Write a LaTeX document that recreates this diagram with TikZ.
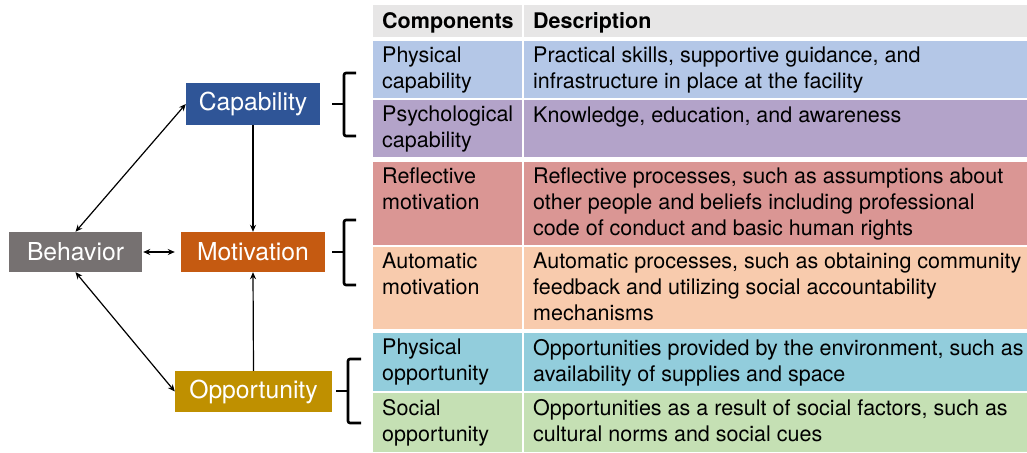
\documentclass[tikz,border=0pt]{standalone}
\usepackage{fontspec}
\setmainfont{TeX Gyre Heros}
\usetikzlibrary{arrows.meta,calc}
\definecolor{capc}{HTML}{2F5597}
\definecolor{motc}{HTML}{C55A11}
\definecolor{behc}{HTML}{767171}
\definecolor{oppc}{HTML}{BF9000}
\definecolor{hdrc}{HTML}{E7E6E6}
\definecolor{pcapc}{HTML}{B4C7E7}
\definecolor{scapc}{HTML}{B3A3C9}
\definecolor{rmotc}{HTML}{DA9694}
\definecolor{amotc}{HTML}{F8CBAD}
\definecolor{poppc}{HTML}{92CDDC}
\definecolor{soppc}{HTML}{C5E0B4}
\begin{document}
\begin{tikzpicture}[x=1pt,y=-1pt,
  box/.style={draw=none,inner sep=0pt,text=white,font=\fontsize{24.7}{28}\selectfont},
  cell/.style={draw=none,inner sep=0pt,anchor=north west},
  txt/.style={inner sep=0pt,anchor=north west,align=left,font=\fontsize{21.5}{26}\selectfont,
    execute at begin node={\rule{0pt}{16pt}}},
  hdr/.style={txt,font=\fontsize{21.5}{26}\selectfont\bfseries},
  link/.style={line width=1.2pt,{Stealth[length=7pt,width=6pt]}-{Stealth[length=7pt,width=6pt]}},
  onearrow/.style={line width=1.2pt,-{Stealth[length=7pt,width=6pt]}},
  brace/.style={line width=2.6pt,rounded corners=2pt}]
\useasboundingbox[fill=white] (0,0) rectangle (1027,452);
% diagram boxes
\node[box,fill=capc,minimum width=134pt,minimum height=42pt] (cap) at (253,104) {Capability};
\node[box,fill=motc,minimum width=144pt,minimum height=40pt] (mot) at (253,252) {Motivation};
\node[box,fill=behc,minimum width=133pt,minimum height=40pt] (beh) at (75.5,252) {Behavior};
\node[box,fill=oppc,minimum width=157pt,minimum height=41pt] (opp) at (253.5,391.5) {Opportunity};
% connectors
\draw[link] (beh.north) -- (cap.west);
\draw[link] (beh.south) -- (opp.west);
\draw[link,shorten <=1pt,shorten >=6pt] (beh.east) -- (mot.west);
\draw[onearrow] (cap.south) -- (mot.north);
\draw[onearrow] (opp.north) -- (mot.south);
% braces
\draw[brace] (356,73) -- (344,73) -- (344,136) -- (356,136);
\draw[brace] (344,104) -- (332,104);
\draw[brace] (356,220) -- (344,220) -- (344,285) -- (356,285);
\draw[brace] (344,252) -- (332,252);
\draw[brace] (361,359) -- (348,359) -- (348,423) -- (361,423);
\draw[brace] (348,391) -- (336,391);
% table cells
\node[cell,fill=hdrc,minimum width=149pt,minimum height=32pt] (h1) at (373,5) {};
\node[cell,fill=hdrc,minimum width=503pt,minimum height=32pt] (h2) at (524,5) {};
\node[cell,fill=pcapc,minimum width=149pt,minimum height=57pt] (a1) at (373,41) {};
\node[cell,fill=pcapc,minimum width=503pt,minimum height=57pt] (b1) at (524,41) {};
\node[cell,fill=scapc,minimum width=149pt,minimum height=57pt] (a2) at (373,100) {};
\node[cell,fill=scapc,minimum width=503pt,minimum height=57pt] (b2) at (524,100) {};
\node[cell,fill=rmotc,minimum width=149pt,minimum height=83pt] (a3) at (373,162) {};
\node[cell,fill=rmotc,minimum width=503pt,minimum height=83pt] (b3) at (524,162) {};
\node[cell,fill=amotc,minimum width=149pt,minimum height=82pt] (a4) at (373,247) {};
\node[cell,fill=amotc,minimum width=503pt,minimum height=82pt] (b4) at (524,247) {};
\node[cell,fill=poppc,minimum width=149pt,minimum height=58pt] (a5) at (373,333) {};
\node[cell,fill=poppc,minimum width=503pt,minimum height=58pt] (b5) at (524,333) {};
\node[cell,fill=soppc,minimum width=149pt,minimum height=59pt] (a6) at (373,393) {};
\node[cell,fill=soppc,minimum width=503pt,minimum height=59pt] (b6) at (524,393) {};
% table text
\node[hdr] (th1) at ($(h1.north west)+(9,7)$) {Components};
\node[hdr] (th2) at ($(h2.north west)+(9,7)$) {Description};
\node[txt] (ta1) at ($(a1.north west)+(9,6)$) {Physical\\capability};
\node[txt] (tb1) at ($(b1.north west)+(9,6)$) {Practical skills, supportive guidance, and\\infrastructure in place at the facility};
\node[txt] (ta2) at ($(a2.north west)+(9,6)$) {Psychological\\capability};
\node[txt] (tb2) at ($(b2.north west)+(9,6)$) {Knowledge, education, and awareness};
\node[txt] (ta3) at ($(a3.north west)+(9,6)$) {Reflective\\motivation};
\node[txt] (tb3) at ($(b3.north west)+(9,6)$) {Reflective processes, such as assumptions about\\other people and beliefs including professional\\code of conduct and basic human rights};
\node[txt] (ta4) at ($(a4.north west)+(9,6)$) {Automatic\\motivation};
\node[txt] (tb4) at ($(b4.north west)+(9,6)$) {Automatic processes, such as obtaining community\\feedback and utilizing social accountability\\mechanisms};
\node[txt] (ta5) at ($(a5.north west)+(9,6)$) {Physical\\opportunity};
\node[txt] (tb5) at ($(b5.north west)+(9,6)$) {Opportunities provided by the environment, such as\\availability of supplies and space};
\node[txt] (ta6) at ($(a6.north west)+(9,6)$) {Social\\opportunity};
\node[txt] (tb6) at ($(b6.north west)+(9,6)$) {Opportunities as a result of social factors, such as\\cultural norms and social cues};
\end{tikzpicture}
\end{document}
